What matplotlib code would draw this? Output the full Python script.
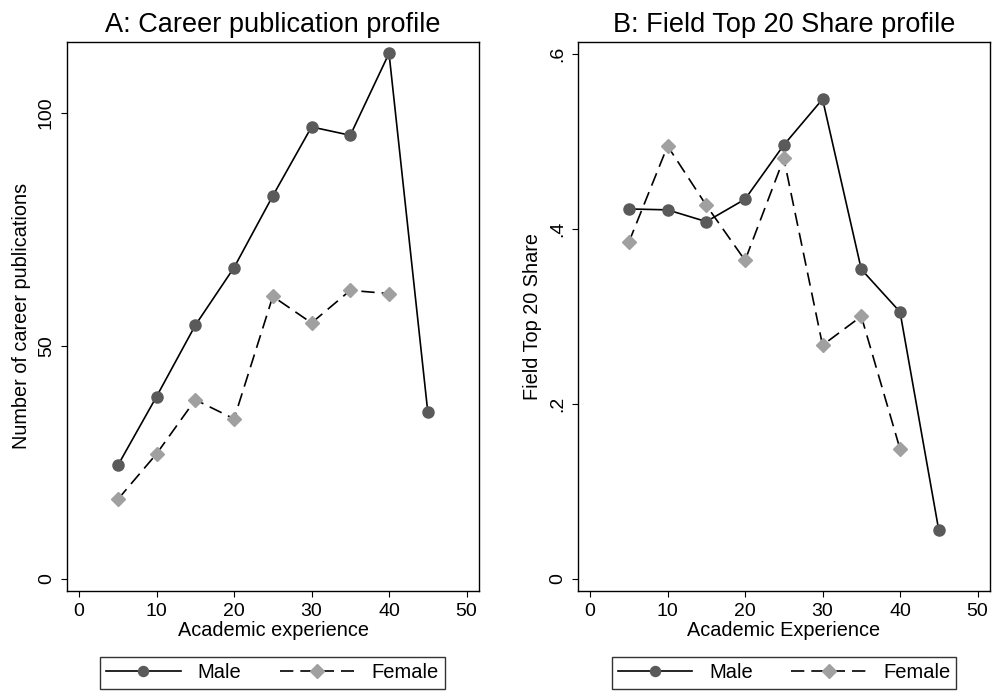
import matplotlib
matplotlib.use('Agg')
import matplotlib.pyplot as plt

# 経験年数
experience = [5, 10, 15, 20, 25, 30, 35, 40, 45]
experience_f = [5, 10, 15, 20, 25, 30, 35, 40]

# A: 論文数
pubs_male = [24.3, 39.1, 54.4, 66.8, 82.2, 97.0, 95.2, 112.8, 35.8]
pubs_female = [17.0, 26.8, 38.4, 34.3, 60.6, 54.9, 61.9, 61.2]

# B: Top 20 シェア
share_male = [0.4225, 0.4215, 0.408, 0.4337, 0.4956, 0.548, 0.3535, 0.3048, 0.0553]
share_female = [0.3845, 0.4945, 0.4266, 0.3637, 0.4803, 0.2668, 0.2998, 0.1481]

plt.rcParams['font.family'] = ['Liberation Sans', 'DejaVu Sans']

W, H = 994, 695
fig = plt.figure(figsize=(W / 100, H / 100), dpi=100)


def make_panel(left_px, male, female, title, xlabel, ylabel, ylim, yticks, yticklabels, legend_cx):
    ax = fig.add_axes([left_px / W, (H - 591) / H, 412.6 / W, (591 - 41.7) / H])
    ax.plot(experience, male, color='black', lw=1.2, marker='o', ms=8,
            mfc='#5a5a5a', mec='#5a5a5a', label='Male')
    ax.plot(experience_f, female, color='black', lw=1.2, dashes=(8, 4.2),
            marker='D', ms=7.5, mfc='#a0a0a0', mec='#a0a0a0', label='Female')
    ax.set_xlim(-1.6, 51.65)
    ax.set_ylim(*ylim)
    ax.set_xticks([0, 10, 20, 30, 40, 50])
    ax.set_yticks(yticks)
    ax.set_yticklabels(yticklabels, rotation=90, va='center')
    ax.tick_params(direction='out', length=4.5, width=0.8, labelsize=14, pad=4)
    for s in ax.spines.values():
        s.set_linewidth(1.0)
    ax.set_title(title, fontsize=19.5, pad=7)
    ax.set_xlabel(xlabel, fontsize=14.3, labelpad=1)
    ax.set_ylabel(ylabel, fontsize=14.3, labelpad=5)
    leg = ax.legend(loc='center', bbox_to_anchor=(legend_cx / W, (H - 673) / H),
                    bbox_transform=fig.transFigure, ncol=2, fontsize=14.5,
                    frameon=True, fancybox=False, edgecolor='black',
                    handlelength=3.7, columnspacing=1.9, handletextpad=0.85,
                    borderpad=0.3, borderaxespad=0, markerscale=0.9)
    leg.get_frame().set_linewidth(1.0)
    return ax


make_panel(66.7, pubs_male, pubs_female, 'A: Career publication profile',
           'Academic experience', 'Number of career publications',
           (-2.67, 115.3), [0, 50, 100], ['0', '50', '100'], 272.5)
make_panel(577.7, share_male, share_female, 'B: Field Top 20 Share profile',
           'Academic Experience', 'Field Top 20 Share',
           (-0.0142, 0.6137), [0, 0.2, 0.4, 0.6], ['0', '.2', '.4', '.6'], 784)

fig.savefig('out.png', dpi=100, facecolor='white')
